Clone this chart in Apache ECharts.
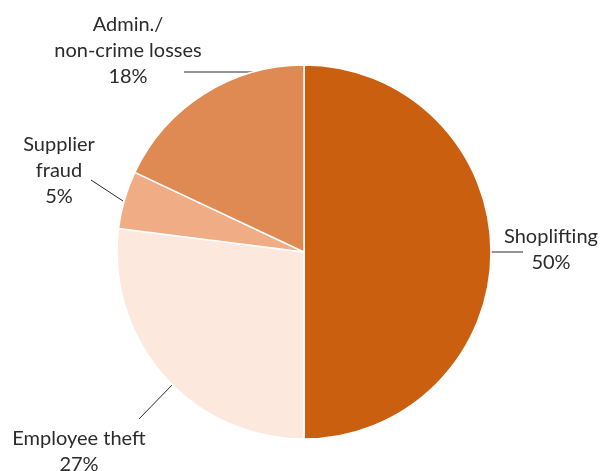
<!DOCTYPE html>
<html>
<head>
<meta charset="utf-8">
<script src="https://cdn.jsdelivr.net/npm/echarts@6/dist/echarts.min.js"></script>
<style>
  html, body { margin: 0; padding: 0; background: #fff; }
  #chart { width: 602px; height: 471px; }
</style>
</head>
<body>
<div id="chart"></div>
<script>
// Retail shrinkage by source (share of total losses, %)
const categories = ['Shoplifting', 'Employee theft', 'Supplier\nfraud', 'Admin./\nnon-crime losses'];
const shares = [50, 27, 5, 18];
const sliceColors = ['#CB5F10', '#FDE8DD', '#F0AD85', '#DF8953'];

// Label anchor (center of text block) and leader-line points per slice
const labelSpots = [
  { x: 551, y: 250, line: [[490, 252], [523, 252], [523, 252]] },
  { x: 79, y: 452, line: [[173, 384], [139, 419], [139, 419]] },
  { x: 59, y: 171, line: [[123, 201], [91, 180], [91, 180]] },
  { x: 128, y: 51, line: [[253, 72], [184, 72], [184, 72]] }
];

const chart = echarts.init(document.getElementById('chart'));
chart.setOption({
  animation: false,
  series: [{
    type: 'pie',
    center: [304, 252],
    radius: [0, 187],
    startAngle: 90,
    clockwise: true,
    itemStyle: { borderColor: '#ffffff', borderWidth: 1.5 },
    label: {
      show: true,
      position: 'outside',
      overflow: 'none',
      formatter: p => p.name + '\n' + p.value + '%',
      fontFamily: 'Lato, "Noto Sans", sans-serif',
      fontSize: 20,
      lineHeight: 26,
      color: '#2b2b2b',
      align: 'center'
    },
    labelLine: { show: true, lineStyle: { color: '#2b2b2b', width: 1 } },
    labelLayout: function (params) {
      const s = labelSpots[params.dataIndex];
      return {
        x: s.x,
        y: s.y,
        align: 'center',
        verticalAlign: 'middle',
        labelLinePoints: s.line
      };
    },
    data: categories.map((c, i) => ({
      name: c,
      value: shares[i],
      itemStyle: { color: sliceColors[i] }
    }))
  }]
});
</script>
</body>
</html>
